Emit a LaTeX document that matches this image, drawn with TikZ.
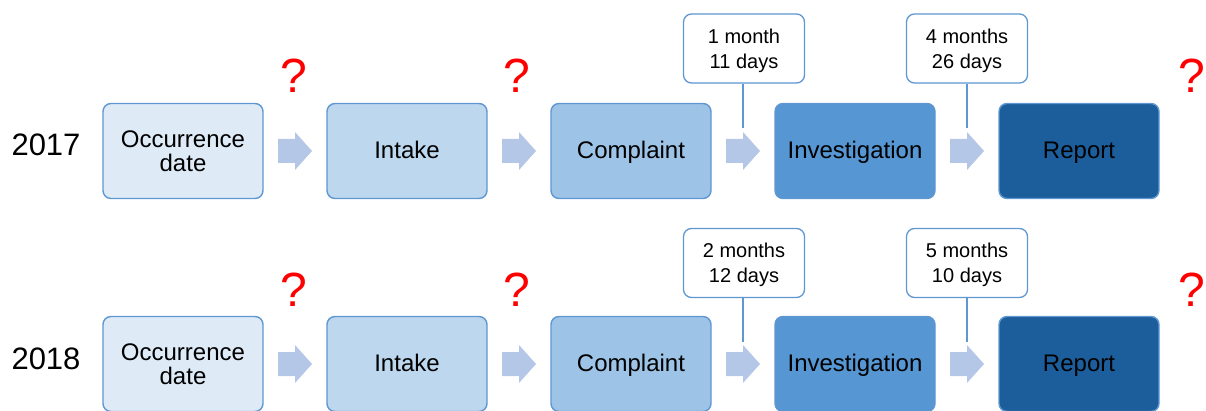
\documentclass[tikz,border=0pt]{standalone}
\usepackage{fontspec}
\setmainfont{Liberation Sans}
\usetikzlibrary{calc}
\definecolor{edgecol}{HTML}{5F97D0}
\definecolor{arrcol}{HTML}{B4C7E7}
\definecolor{occcol}{HTML}{DEEBF7}
\definecolor{intcol}{HTML}{BDD7EE}
\definecolor{cmpcol}{HTML}{9DC3E6}
\definecolor{invcol}{HTML}{5596D3}
\definecolor{repcol}{HTML}{1C5E9B}
\tikzstyle{stage}=[draw=edgecol,line width=1.4,rounded corners=8,
                   minimum width=160,minimum height=95,align=center,
                   font=\fontsize{24}{24}\selectfont]
\tikzstyle{one}=[text height=17,text depth=1.6]
\tikzstyle{tick}=[draw=edgecol,line width=1.4]
\newcommand\tall{\rule{0pt}{19pt}}

\begin{document}
\begin{tikzpicture}[x=1pt,y=1pt,
                    Q/.style = {text=red, inner sep=0,
                              font=\fontsize{48}{48}\selectfont},
                    L/.style = {draw=edgecol, fill=white, line width=1.3,
                              rounded corners=8, minimum width=121,
                              minimum height=69, align=center,
                              font=\fontsize{20}{25}\selectfont},
                    YR/.style = {inner sep=0, font=\fontsize{31}{31}\selectfont}
               ]
               \useasboundingbox (0,0) rectangle (1206,410);
               \def\dx{224}  % stage spacing
               \def\ya{259}  % 2017 row
               \def\yb{46}   % 2018 row
               \def\blk#1{\fill[arrcol] (#1) ++(-17,-12) -- ++(17,0) -- ++(0,-7)
                          -- ++(17,19) -- ++(-17,19) -- ++(0,-7) -- ++(-17,0) -- cycle;}

               % 2017
               \node[YR] (y1) at (46,\ya+6) {2017};
               \node[stage, fill=occcol] (o1) at (183,\ya) {Occurrence\\date};
               \node[stage, one, fill=intcol] (i1) at (183+\dx,\ya) {Intake};
               \node[stage, one, fill=cmpcol] (c1) at (183+2*\dx,\ya) {Complaint};
               \node[stage, one, fill=invcol] (v1) at (183+3*\dx,\ya) {Investigation};
               \node[stage, one, fill=repcol] (r1) at (183+4*\dx,\ya) {Report};
               \coordinate (a11) at ($(o1.east)!.5!(i1.west)$);
               \coordinate (a12) at ($(i1.east)!.5!(c1.west)$);
               \coordinate (a13) at ($(c1.east)!.5!(v1.west)$);
               \coordinate (a14) at ($(v1.east)!.5!(r1.west)$);
               \blk{a11} \blk{a12} \blk{a13} \blk{a14}
               \node[Q] (q11) at ($(a11)+(-1,75.5)$) {?};
               \node[Q] (q12) at ($(a12)+(-2,75.5)$) {?};
               \node[Q] (q13) at (1192,\ya+75.5) {?};
               \node[L] (m13) at ($(a13)+(1,102.5)$) {\tall 1 month\\11 days};
               \node[L] (m14) at ($(a14)+(0,102.5)$) {\tall 4 months\\26 days};
               \coordinate (t13) at ($(a13)+(0,23)$);
               \coordinate (t14) at ($(a14)+(0,23)$);
               \draw[tick] (m13.south -| t13) -- (t13);
               \draw[tick] (m14.south -| t14) -- (t14);

               % 2018
               \node[YR] (y2) at (46,\yb+5) {2018};
               \node[stage, fill=occcol] (o2) at (183,\yb) {Occurrence\\date};
               \node[stage, one, fill=intcol] (i2) at (183+\dx,\yb) {Intake};
               \node[stage, one, fill=cmpcol] (c2) at (183+2*\dx,\yb) {Complaint};
               \node[stage, one, fill=invcol] (v2) at (183+3*\dx,\yb) {Investigation};
               \node[stage, one, fill=repcol] (r2) at (183+4*\dx,\yb) {Report};
               \coordinate (a21) at ($(o2.east)!.5!(i2.west)$);
               \coordinate (a22) at ($(i2.east)!.5!(c2.west)$);
               \coordinate (a23) at ($(c2.east)!.5!(v2.west)$);
               \coordinate (a24) at ($(v2.east)!.5!(r2.west)$);
               \blk{a21} \blk{a22} \blk{a23} \blk{a24}
               \node[Q] (q21) at ($(a21)+(-1,74)$) {?};
               \node[Q] (q22) at ($(a22)+(-2,74)$) {?};
               \node[Q] (q23) at (1192,\yb+74) {?};
               \node[L] (m23) at ($(a23)+(1,101)$) {\tall 2 months\\12 days};
               \node[L] (m24) at ($(a24)+(0,101)$) {\tall 5 months\\10 days};
               \coordinate (t23) at ($(a23)+(0,22)$);
               \coordinate (t24) at ($(a24)+(0,22)$);
               \draw[tick] (m23.south -| t23) -- (t23);
               \draw[tick] (m24.south -| t24) -- (t24);
          \end{tikzpicture}
\end{document}
